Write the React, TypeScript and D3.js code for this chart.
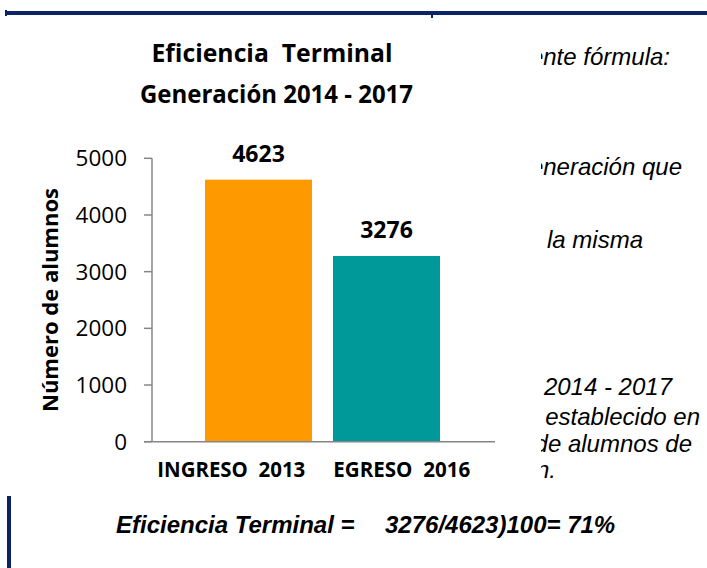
import React from 'react';
import * as d3 from 'd3';

// chart data
const categories = ['INGRESO  2013', 'EGRESO  2016'];
const alumnos = [4623, 3276];
const barColors = ['#FF9900', '#009999'];
const titleLines = ['Eficiencia  Terminal', 'Generación 2014 - 2017'];
const yAxisTitle = 'Número de alumnos';

// slide text partly hidden behind the chart
const sideText = [
  'ente fórmula:',
  'eneración que',
  'e la misma',
  '2014 -  2017',
  'establecido en',
  'de alumnos de',
  'ón.',
];
const formulaLeft = 'Eficiencia Terminal =';
const formulaRight = '3276/4623)100= 71%';

const W = 707, H = 568;
const navy = '#0c2466';
const axisGray = '#868686';
const chartFont = '"Open Sans", "Noto Sans", sans-serif';
const slideFont = '"Liberation Sans", Arial, sans-serif';

// where each side line ends and sits (from the slide layout)
const sideLayout = [
  { x: 670, y: 65 },
  { x: 682, y: 175 },
  { x: 643, y: 248 },
  { x: 672, y: 395 },
  { x: 700, y: 425 },
  { x: 692, y: 452 },
  { x: 556, y: 478 },
];

const App = () => {
  const plot = { left: 152, right: 495, top: 158.3, bottom: 441.7 };

  const y = d3.scaleLinear().domain([0, 5000]).range([plot.bottom, plot.top]);
  const xBar = d3.scaleBand<string>()
    .domain(categories)
    .range([184, 461])
    .paddingInner(0.164)
    .paddingOuter(0.164);
  const xLabel = d3.scaleBand<string>().domain(categories).range([146, 487]);

  const ticks = y.ticks(5);

  return (
    <svg width={W} height={H} style={{ position: 'absolute', left: 0, top: 0 }}>
      <defs>
        <clipPath id="sideClip">
          <rect x={541} y={0} width={W - 541} height={H} />
        </clipPath>
      </defs>
      <rect width={W} height={H} fill="#fff" />

      {/* slide decoration */}
      <rect x={6} y={11} width={W - 6} height={4} fill={navy} />
      <rect x={5} y={10} width={2} height={6} fill={navy} />
      <rect x={431} y={15} width={2} height={3} fill={navy} />
      <rect x={7} y={496} width={4} height={72} fill={navy} />

      {/* side text */}
      <g clipPath="url(#sideClip)" fontFamily={slideFont} fontStyle="italic" fontSize={24} fill="#000"
        textAnchor="end" style={{ whiteSpace: 'pre' }}>
        {sideText.map((t, i) => (
          <text key={i} x={sideLayout[i].x} y={sideLayout[i].y}>{t}</text>
        ))}
      </g>

      {/* title */}
      <g fontFamily={chartFont} fontWeight="bold" fontSize={25} fill="#000" textAnchor="middle">
        <text x={272} y={62} textLength={241} lengthAdjust="spacingAndGlyphs" style={{ whiteSpace: 'pre' }}>{titleLines[0]}</text>
        <text x={276.5} y={103} textLength={273} lengthAdjust="spacingAndGlyphs">{titleLines[1]}</text>
      </g>

      {/* y axis */}
      <line x1={plot.left} x2={plot.left} y1={plot.top} y2={plot.bottom} stroke={axisGray} strokeWidth={1.5} />
      {ticks.map(t => (
        <g key={t}>
          <line x1={plot.left - 8} x2={plot.left} y1={y(t)} y2={y(t)} stroke={axisGray} strokeWidth={1.5} />
          <text x={plot.left - 25} y={y(t)} dy="0.36em" textAnchor="end"
            fontFamily={chartFont} fontSize={22.5} fill="#000">{t}</text>
        </g>
      ))}
      <text transform={`translate(58,300) rotate(-90)`} textAnchor="middle"
        fontFamily={chartFont} fontWeight="bold" fontSize={22} fill="#000"
        textLength={224} lengthAdjust="spacingAndGlyphs">{yAxisTitle}</text>

      {/* bars */}
      {categories.map((c, i) => (
        <rect key={c} x={xBar(c)} y={y(alumnos[i])} width={xBar.bandwidth()}
          height={plot.bottom - y(alumnos[i])} fill={barColors[i]} />
      ))}
      {categories.map((c, i) => (
        <text key={c} x={(xBar(c) as number) + xBar.bandwidth() / 2} y={y(alumnos[i]) - 18}
          textAnchor="middle" fontFamily={chartFont} fontWeight="bold" fontSize={23} fill="#000">
          {alumnos[i]}
        </text>
      ))}

      {/* x axis */}
      <line x1={plot.left - 8} x2={plot.right} y1={plot.bottom} y2={plot.bottom} stroke={axisGray} strokeWidth={1.5} />
      {categories.map((c, i) => (
        <text key={c} x={(xLabel(c) as number) + xLabel.bandwidth() / 2} y={476.5}
          textAnchor="middle" fontFamily={chartFont} fontWeight="bold" fontSize={21} fill="#000"
          textLength={i === 0 ? 148 : 137} lengthAdjust="spacingAndGlyphs" style={{ whiteSpace: 'pre' }}>
          {c}
        </text>
      ))}

      {/* formula */}
      <g fontFamily={slideFont} fontStyle="italic" fontWeight="bold" fontSize={24} fill="#000">
        <text x={116} y={533}>{formulaLeft}</text>
        <text x={385} y={533}>{formulaRight}</text>
      </g>
    </svg>
  );
};

export default App;
